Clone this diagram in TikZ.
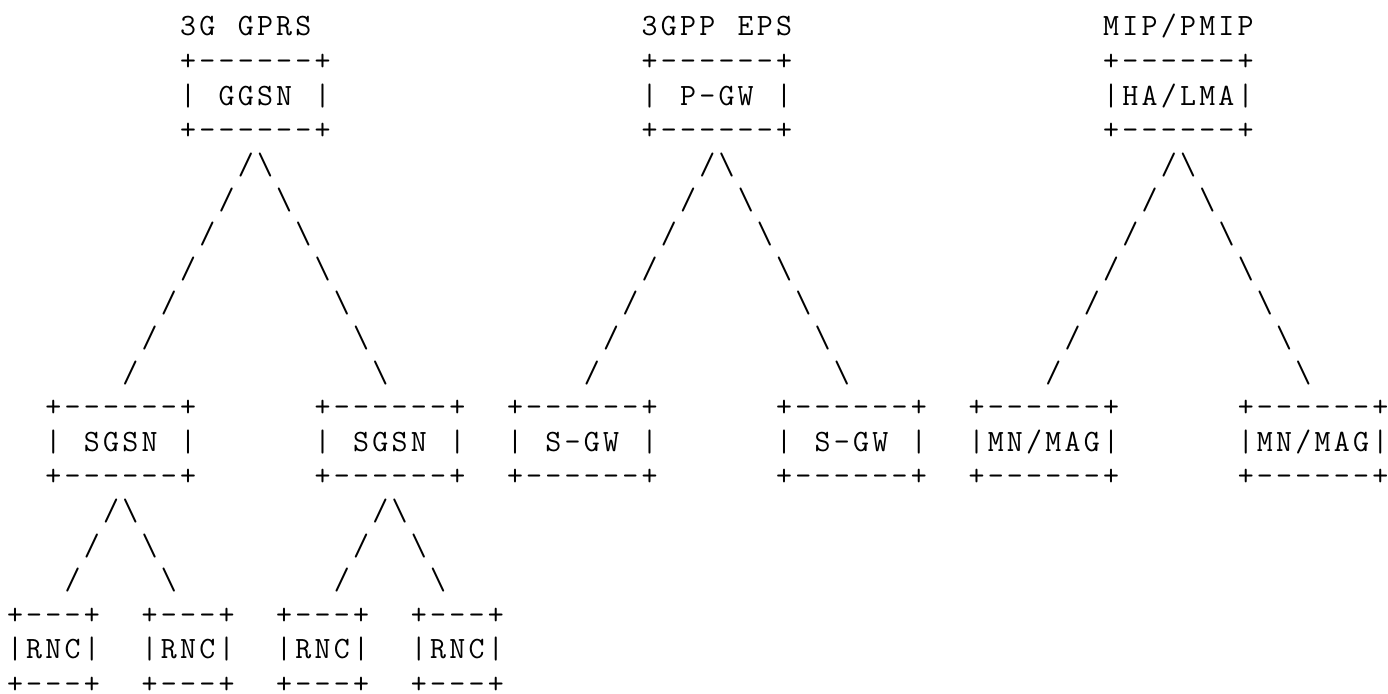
\documentclass[tikz,border=0pt]{standalone}
\usepackage{fontspec}
\setmonofont{Latin Modern Mono}
\newlength\cw \setlength\cw{19.23pt}
\def\spread#1{\spreadi#1\relax}
\def\spreadi#1{\ifx\relax#1\else\makebox[\cw][c]{#1}\expandafter\spreadi\fi}
\tikzset{asc/.style={inner sep=0pt, outer sep=0pt, anchor=base west,
  font=\ttfamily\fontsize{31}{34}\selectfont, text=black}}
% name, column, row, text
\newcommand\putrow[4]{\node[asc] (#1) at ({5.385+(#2)*19.23},{36+((#3)-1)*34.6}) {\spread{#4}};}
\begin{document}
\begin{tikzpicture}[x=1pt,y=-1pt]
\fill[white] (0,0) rectangle (1388,693);
\useasboundingbox (0,0) rectangle (1388,693);
% titles
\putrow{t1}{9}{1}{3G~GPRS}
\putrow{t2}{33}{1}{3GPP~EPS}
\putrow{t3}{57}{1}{MIP/PMIP}
% top boxes
\putrow{ggsn-t}{9}{2}{+------+}
\putrow{ggsn}{9}{3}{|~GGSN~|}
\putrow{ggsn-b}{9}{4}{+------+}
\putrow{pgw-t}{33}{2}{+------+}
\putrow{pgw}{33}{3}{|~P-GW~|}
\putrow{pgw-b}{33}{4}{+------+}
\putrow{ha-t}{57}{2}{+------+}
\putrow{ha}{57}{3}{|HA/LMA|}
\putrow{ha-b}{57}{4}{+------+}
% long diagonals
\foreach \k in {0,...,6}{
  \putrow{ga\k}{12-\k}{5+\k}{/}
  \putrow{gb\k}{13+\k}{5+\k}{\textbackslash}
  \putrow{pa\k}{36-\k}{5+\k}{/}
  \putrow{pb\k}{37+\k}{5+\k}{\textbackslash}
  \putrow{ma\k}{60-\k}{5+\k}{/}
  \putrow{mb\k}{61+\k}{5+\k}{\textbackslash}
}
% middle boxes
\foreach \c/\n in {2/s1,16/s2,26/w1,40/w2,50/m1,64/m2}{
  \putrow{\n-t}{\c}{12}{+------+}
  \putrow{\n-b}{\c}{14}{+------+}
}
\putrow{s1}{2}{13}{|~SGSN~|}
\putrow{s2}{16}{13}{|~SGSN~|}
\putrow{w1}{26}{13}{|~S-GW~|}
\putrow{w2}{40}{13}{|~S-GW~|}
\putrow{m1}{50}{13}{|MN/MAG|}
\putrow{m2}{64}{13}{|MN/MAG|}
% short diagonals
\foreach \k in {0,...,2}{
  \putrow{sa\k}{5-\k}{15+\k}{/}
  \putrow{sb\k}{6+\k}{15+\k}{\textbackslash}
  \putrow{ta\k}{19-\k}{15+\k}{/}
  \putrow{tb\k}{20+\k}{15+\k}{\textbackslash}
}
% RNC boxes
\foreach \c/\n in {0/r1,7/r2,14/r3,21/r4}{
  \putrow{\n-t}{\c}{18}{+---+}
  \putrow{\n}{\c}{19}{|RNC|}
  \putrow{\n-b}{\c}{20}{+---+}
}
\end{tikzpicture}
\end{document}
